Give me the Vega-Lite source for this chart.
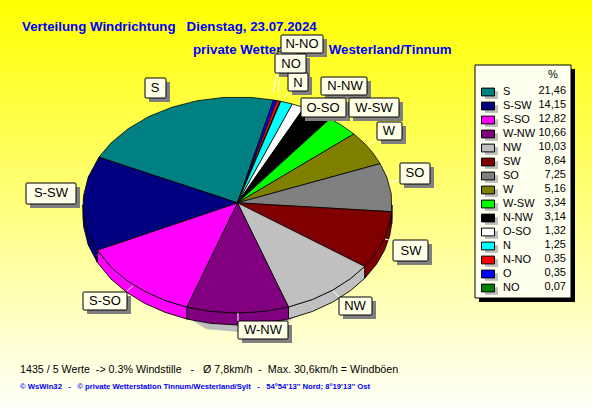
{"$schema":"https://vega.github.io/schema/vega-lite/v6.json","width":592,"height":407,"padding":0,"autosize":"none","background":"#ffffff","config":{"view":{"stroke":null},"text":{"font":"Liberation Sans"},"legend":{"zindex":1}},
"datasets":{
"slices":[{"d":"S","pct":"21,46"},{"d":"S-SW","pct":"14,15"},{"d":"S-SO","pct":"12,82"},{"d":"W-NW","pct":"10,66"},{"d":"NW","pct":"10,03"},{"d":"SW","pct":"8,64"},{"d":"SO","pct":"7,25"},{"d":"W","pct":"5,16"},{"d":"W-SW","pct":"3,34"},{"d":"N-NW","pct":"3,14"},{"d":"O-SO","pct":"1,32"},{"d":"N","pct":"1,25"},{"d":"N-NO","pct":"0,35"},{"d":"O","pct":"0,35"},{"d":"NO","pct":"0,07"}],
"top":[
{"d":"S","i":0,"u":0,"v":0.02},{"d":"S","i":1,"u":-0.897,"v":0.442},{"d":"S","i":2,"u":-0.819,"v":0.574},{"d":"S","i":3,"u":-0.707,"v":0.707},{"d":"S","i":4,"u":-0.574,"v":0.819},{"d":"S","i":5,"u":-0.423,"v":0.906},{"d":"S","i":6,"u":-0.259,"v":0.966},{"d":"S","i":7,"u":-0.087,"v":0.996},{"d":"S","i":8,"u":0.087,"v":0.996},{"d":"S","i":9,"u":0.233,"v":0.972},{"d":"S","i":10,"u":0,"v":0.02},
{"d":"O","i":0,"u":0,"v":0.02},{"d":"O","i":1,"u":0.233,"v":0.972},{"d":"O","i":2,"u":0.255,"v":0.967},{"d":"O","i":3,"u":0,"v":0.02},
{"d":"N-NO","i":0,"u":0,"v":0.02},{"d":"N-NO","i":1,"u":0.255,"v":0.967},{"d":"N-NO","i":2,"u":0.276,"v":0.961},{"d":"N-NO","i":3,"u":0,"v":0.02},
{"d":"NO","i":0,"u":0,"v":0.02},{"d":"NO","i":1,"u":0.276,"v":0.961},{"d":"NO","i":2,"u":0.28,"v":0.96},{"d":"NO","i":3,"u":0,"v":0.02},
{"d":"N","i":0,"u":0,"v":0.02},{"d":"N","i":1,"u":0.28,"v":0.96},{"d":"N","i":2,"u":0.355,"v":0.935},{"d":"N","i":3,"u":0,"v":0.02},
{"d":"O-SO","i":0,"u":0,"v":0.02},{"d":"O-SO","i":1,"u":0.355,"v":0.935},{"d":"O-SO","i":2,"u":0.431,"v":0.902},{"d":"O-SO","i":3,"u":0,"v":0.02},
{"d":"N-NW","i":0,"u":0,"v":0.02},{"d":"N-NW","i":1,"u":0.431,"v":0.902},{"d":"N-NW","i":2,"u":0.5,"v":0.866},{"d":"N-NW","i":3,"u":0.6,"v":0.8},{"d":"N-NW","i":4,"u":0,"v":0.02},
{"d":"W-SW","i":0,"u":0,"v":0.02},{"d":"W-SW","i":1,"u":0.6,"v":0.8},{"d":"W-SW","i":2,"u":0.669,"v":0.743},{"d":"W-SW","i":3,"u":0.753,"v":0.658},{"d":"W-SW","i":4,"u":0,"v":0.02},
{"d":"W","i":0,"u":0,"v":0.02},{"d":"W","i":1,"u":0.753,"v":0.658},{"d":"W","i":2,"u":0.819,"v":0.574},{"d":"W","i":3,"u":0.875,"v":0.485},{"d":"W","i":4,"u":0.923,"v":0.383},{"d":"W","i":5,"u":0,"v":0.02},
{"d":"SO","i":0,"u":0,"v":0.02},{"d":"SO","i":1,"u":0.923,"v":0.383},{"d":"SO","i":2,"u":0.966,"v":0.259},{"d":"SO","i":3,"u":0.995,"v":0.105},{"d":"SO","i":4,"u":0.998,"v":-0.062},{"d":"SO","i":5,"u":0,"v":0.02},
{"d":"SW","i":0,"u":0,"v":0.02},{"d":"SW","i":1,"u":0.998,"v":-0.062},{"d":"SW","i":2,"u":0.985,"v":-0.174},{"d":"SW","i":3,"u":0.951,"v":-0.309},{"d":"SW","i":4,"u":0.899,"v":-0.438},{"d":"SW","i":5,"u":0.823,"v":-0.569},{"d":"SW","i":6,"u":0,"v":0.02},
{"d":"NW","i":0,"u":0,"v":0.02},{"d":"NW","i":1,"u":0.823,"v":-0.569},{"d":"NW","i":2,"u":0.731,"v":-0.682},{"d":"NW","i":3,"u":0.616,"v":-0.788},{"d":"NW","i":4,"u":0.485,"v":-0.875},{"d":"NW","i":5,"u":0.33,"v":-0.944},{"d":"NW","i":6,"u":0,"v":0.02},
{"d":"W-NW","i":0,"u":0,"v":0.02},{"d":"W-NW","i":1,"u":0.33,"v":-0.944},{"d":"W-NW","i":2,"u":0.174,"v":-0.985},{"d":"W-NW","i":3,"u":0,"v":-1},{"d":"W-NW","i":4,"u":-0.174,"v":-0.985},{"d":"W-NW","i":5,"u":-0.328,"v":-0.945},{"d":"W-NW","i":6,"u":0,"v":0.02},
{"d":"S-SO","i":0,"u":0,"v":0.02},{"d":"S-SO","i":1,"u":-0.328,"v":-0.945},{"d":"S-SO","i":2,"u":-0.469,"v":-0.883},{"d":"S-SO","i":3,"u":-0.602,"v":-0.799},{"d":"S-SO","i":4,"u":-0.719,"v":-0.695},{"d":"S-SO","i":5,"u":-0.819,"v":-0.574},{"d":"S-SO","i":6,"u":-0.908,"v":-0.418},{"d":"S-SO","i":7,"u":0,"v":0.02},
{"d":"S-SW","i":0,"u":0,"v":0.02},{"d":"S-SW","i":1,"u":-0.908,"v":-0.418},{"d":"S-SW","i":2,"u":-0.966,"v":-0.259},{"d":"S-SW","i":3,"u":-0.996,"v":-0.087},{"d":"S-SW","i":4,"u":-1,"v":0},{"d":"S-SW","i":5,"u":-0.996,"v":0.087},{"d":"S-SW","i":6,"u":-0.966,"v":0.259},{"d":"S-SW","i":7,"u":-0.897,"v":0.442},{"d":"S-SW","i":8,"u":0,"v":0.02}],
"side":[
{"d":"SO","i":0,"u":0.998,"v":-0.062},{"d":"SO","i":1,"u":1,"v":0},{"d":"SO","i":2,"u":1,"v":-0.111},{"d":"SO","i":3,"u":0.998,"v":-0.173},{"d":"SO","i":4,"u":0.998,"v":-0.062},
{"d":"SW","i":0,"u":0.998,"v":-0.062},{"d":"SW","i":1,"u":0.985,"v":-0.174},{"d":"SW","i":2,"u":0.951,"v":-0.309},{"d":"SW","i":3,"u":0.899,"v":-0.438},{"d":"SW","i":4,"u":0.823,"v":-0.569},{"d":"SW","i":5,"u":0.823,"v":-0.68},{"d":"SW","i":6,"u":0.899,"v":-0.549},{"d":"SW","i":7,"u":0.951,"v":-0.42},{"d":"SW","i":8,"u":0.985,"v":-0.285},{"d":"SW","i":9,"u":0.998,"v":-0.173},{"d":"SW","i":10,"u":0.998,"v":-0.062},
{"d":"NW","i":0,"u":0.823,"v":-0.569},{"d":"NW","i":1,"u":0.731,"v":-0.682},{"d":"NW","i":2,"u":0.616,"v":-0.788},{"d":"NW","i":3,"u":0.485,"v":-0.875},{"d":"NW","i":4,"u":0.33,"v":-0.944},{"d":"NW","i":5,"u":0.33,"v":-1.055},{"d":"NW","i":6,"u":0.485,"v":-0.986},{"d":"NW","i":7,"u":0.616,"v":-0.899},{"d":"NW","i":8,"u":0.731,"v":-0.793},{"d":"NW","i":9,"u":0.823,"v":-0.68},{"d":"NW","i":10,"u":0.823,"v":-0.569},
{"d":"W-NW","i":0,"u":0.33,"v":-0.944},{"d":"W-NW","i":1,"u":0.174,"v":-0.985},{"d":"W-NW","i":2,"u":0,"v":-1},{"d":"W-NW","i":3,"u":-0.174,"v":-0.985},{"d":"W-NW","i":4,"u":-0.328,"v":-0.945},{"d":"W-NW","i":5,"u":-0.328,"v":-1.056},{"d":"W-NW","i":6,"u":-0.174,"v":-1.096},{"d":"W-NW","i":7,"u":0,"v":-1.111},{"d":"W-NW","i":8,"u":0.174,"v":-1.096},{"d":"W-NW","i":9,"u":0.33,"v":-1.055},{"d":"W-NW","i":10,"u":0.33,"v":-0.944},
{"d":"S-SO","i":0,"u":-0.328,"v":-0.945},{"d":"S-SO","i":1,"u":-0.469,"v":-0.883},{"d":"S-SO","i":2,"u":-0.602,"v":-0.799},{"d":"S-SO","i":3,"u":-0.719,"v":-0.695},{"d":"S-SO","i":4,"u":-0.819,"v":-0.574},{"d":"S-SO","i":5,"u":-0.908,"v":-0.418},{"d":"S-SO","i":6,"u":-0.908,"v":-0.529},{"d":"S-SO","i":7,"u":-0.819,"v":-0.685},{"d":"S-SO","i":8,"u":-0.719,"v":-0.806},{"d":"S-SO","i":9,"u":-0.602,"v":-0.91},{"d":"S-SO","i":10,"u":-0.469,"v":-0.994},{"d":"S-SO","i":11,"u":-0.328,"v":-1.056},{"d":"S-SO","i":12,"u":-0.328,"v":-0.945},
{"d":"S-SW","i":0,"u":-0.908,"v":-0.418},{"d":"S-SW","i":1,"u":-0.966,"v":-0.259},{"d":"S-SW","i":2,"u":-0.996,"v":-0.087},{"d":"S-SW","i":3,"u":-1,"v":0},{"d":"S-SW","i":4,"u":-1,"v":-0.111},{"d":"S-SW","i":5,"u":-0.996,"v":-0.198},{"d":"S-SW","i":6,"u":-0.966,"v":-0.37},{"d":"S-SW","i":7,"u":-0.908,"v":-0.529},{"d":"S-SW","i":8,"u":-0.908,"v":-0.418}],
"shadow":[{"i":0,"u":-0.328,"v":-1.04},{"i":1,"u":-0.2,"v":-1.15},{"i":2,"u":0.05,"v":-1.18},{"i":3,"u":0.25,"v":-1.14},{"i":4,"u":0.42,"v":-1.0}],
"labels":[
{"d":"S","c":155,"m":88,"x0":145,"x1":166,"y0":78,"y1":98},
{"d":"S-SW","c":51,"m":193,"x0":26,"x1":76,"y0":183,"y1":204},
{"d":"S-SO","c":105,"m":301,"x0":83,"x1":127,"y0":292,"y1":310},
{"d":"W-NW","c":263,"m":330,"x0":238,"x1":288,"y0":321,"y1":339},
{"d":"NW","c":355,"m":306,"x0":339,"x1":372,"y0":297,"y1":315},
{"d":"SW","c":411,"m":251,"x0":393,"x1":428,"y0":240,"y1":261},
{"d":"SO","c":415,"m":173,"x0":400,"x1":430,"y0":163,"y1":184},
{"d":"W","c":389,"m":131,"x0":377,"x1":402,"y0":122,"y1":140},
{"d":"W-SW","c":374,"m":108,"x0":349,"x1":399,"y0":98,"y1":117},
{"d":"O-SO","c":323,"m":108,"x0":301,"x1":346,"y0":98,"y1":117},
{"d":"N-NW","c":345,"m":86,"x0":321,"x1":367,"y0":77,"y1":95},
{"d":"N","c":298,"m":83,"x0":288,"x1":308,"y0":73,"y1":91},
{"d":"O","c":287,"m":62,"x0":277,"x1":297,"y0":52,"y1":70},
{"d":"NO","c":291,"m":64,"x0":275,"x1":306,"y0":54,"y1":73},
{"d":"N-NO","c":302,"m":44,"x0":281,"x1":323,"y0":35,"y1":53}],
"leaders":[
{"d":"W-NW","a":238,"b":313,"a2":238,"b2":321},
{"d":"S-SO","a":127,"b":291,"a2":133,"b2":286},
{"d":"NW","a":333,"b":291,"a2":339,"b2":297},
{"d":"SW","a":385,"b":239,"a2":393,"b2":241},
{"d":"S-SW","a":76,"b":203,"a2":83,"b2":203},
{"d":"W","a":368,"b":145,"a2":377,"b2":140},
{"d":"NO","a":273,"b":92,"a2":277,"b2":73},
{"d":"O","a":278,"b":92,"a2":280,"b2":73},
{"d":"N","a":285,"b":97,"a2":290,"b2":91},
{"d":"W-SW","a":342,"b":122,"a2":349,"b2":117},
{"d":"SO","a":389,"b":182,"a2":400,"b2":180}]
},
"layer":[
{"data":{"values":[{}]},"mark":{"type":"rect","color":{"gradient":"linear","x1":0,"y1":0,"x2":0,"y2":1,"stops":[{"offset":0,"color":"#FFFF00"},{"offset":1,"color":"#FFFFFA"}]}},"encoding":{"x":{"datum":0,"type":"quantitative","scale":{"domain":[0,592]},"axis":null},"x2":{"datum":592},"y":{"datum":0,"type":"quantitative","scale":{"domain":[407,0]},"axis":null},"y2":{"datum":407}}},
{"data":{"name":"shadow"},"mark":{"type":"line","fill":"#BDBDBD","stroke":null},"encoding":{"x":{"field":"u","type":"quantitative","scale":{"domain":[-1.5372,2.2945]},"axis":null},"y":{"field":"v","type":"quantitative","scale":{"domain":[-1.8704,1.8981]},"axis":null},"order":{"field":"i"}}},
{"data":{"name":"side"},"mark":{"type":"line","stroke":"#000000","strokeWidth":0.9,"filled":true},"encoding":{"x":{"field":"u","type":"quantitative","scale":{"domain":[-1.5372,2.2945]},"axis":null},"y":{"field":"v","type":"quantitative","scale":{"domain":[-1.8704,1.8981]},"axis":null},"order":{"field":"i"},"fill":{"field":"d","type":"nominal","scale":{"domain":["S","S-SW","S-SO","W-NW","NW","SW","SO","W","W-SW","N-NW","O-SO","N","N-NO","O","NO"],"range":["#008080","#000080","#FF00FF","#800080","#C0C0C0","#800000","#808080","#808000","#00FF00","#000000","#FFFFFF","#00FFFF","#FF0000","#0000FF","#008000"]},"legend":{"orient":"none","legendX":481,"legendY":85,"title":null,"padding":0,"symbolType":"M-1,-0.6H1V0.6H-1Z","symbolSize":169,"symbolStrokeColor":"#000000","symbolStrokeWidth":1,"symbolOpacity":1,"clipHeight":14,"rowPadding":0,"labelOffset":8,"labelFontSize":11,"labelFont":"Liberation Sans","labelColor":"#000000","values":["S","S-SW","S-SO","W-NW","NW","SW","SO","W","W-SW","N-NW","O-SO","N","N-NO","O","NO"]}}}},
{"data":{"name":"top"},"mark":{"type":"line","stroke":"#000000","strokeWidth":0.8,"filled":true},"encoding":{"x":{"field":"u","type":"quantitative","scale":{"domain":[-1.5372,2.2945]},"axis":null},"y":{"field":"v","type":"quantitative","scale":{"domain":[-1.8704,1.8981]},"axis":null},"order":{"field":"i"},"fill":{"field":"d","type":"nominal"}}},
{"data":{"name":"leaders"},"mark":{"type":"rule","color":"#FFFFFF","strokeWidth":1},"encoding":{"x":{"field":"a","type":"quantitative","scale":{"domain":[0,592]},"axis":null},"x2":{"field":"a2"},"y":{"field":"b","type":"quantitative","scale":{"domain":[407,0]},"axis":null},"y2":{"field":"b2"}}},
{"data":{"values":[{"t":"Verteilung Windrichtung\u00a0\u00a0\u00a0Dienstag, 23.07.2024","px":22,"py":31},{"t":"private Wetterstation Westerland/Tinnum","px":193,"py":54}]},"mark":{"type":"text","align":"left","baseline":"alphabetic","font":"Liberation Sans","fontWeight":"bold","fontSize":13.3,"color":"#0000FF"},"encoding":{"text":{"field":"t"},"x":{"field":"px","type":"quantitative","scale":{"domain":[0,592]},"axis":null},"y":{"field":"py","type":"quantitative","scale":{"domain":[407,0]},"axis":null}}},
{"data":{"name":"labels"},"mark":{"type":"rect","fill":"#808080","xOffset":4,"x2Offset":4,"yOffset":4,"y2Offset":4},"encoding":{"x":{"field":"x0","type":"quantitative","scale":{"domain":[0,592]},"axis":null},"x2":{"field":"x1"},"y":{"field":"y0","type":"quantitative","scale":{"domain":[407,0]},"axis":null},"y2":{"field":"y1"}}},
{"data":{"name":"labels"},"mark":{"type":"rect","fill":"#FFFFE8","stroke":"#000000","strokeWidth":1,"cornerRadius":1},"encoding":{"x":{"field":"x0","type":"quantitative","scale":{"domain":[0,592]},"axis":null},"x2":{"field":"x1"},"y":{"field":"y0","type":"quantitative","scale":{"domain":[407,0]},"axis":null},"y2":{"field":"y1"}}},
{"data":{"name":"labels"},"transform":[{"filter":"datum.d !== 'O'"}],"mark":{"type":"text","font":"Liberation Sans","fontSize":13,"color":"#000000"},"encoding":{"text":{"field":"d"},"x":{"field":"c","type":"quantitative","scale":{"domain":[0,592]},"axis":null},"y":{"field":"m","type":"quantitative","scale":{"domain":[407,0]},"axis":null}}},
{"data":{"values":[{}]},"mark":{"type":"rect","fill":"#000000","xOffset":4,"x2Offset":4,"yOffset":4,"y2Offset":4},"encoding":{"x":{"datum":475,"type":"quantitative","scale":{"domain":[0,592]},"axis":null},"x2":{"datum":571},"y":{"datum":65,"type":"quantitative","scale":{"domain":[407,0]},"axis":null},"y2":{"datum":298}}},
{"data":{"values":[{}]},"mark":{"type":"rect","fill":"#FFFFF0","stroke":"#000000","strokeWidth":1},"encoding":{"x":{"datum":475,"type":"quantitative","scale":{"domain":[0,592]},"axis":null},"x2":{"datum":571},"y":{"datum":65,"type":"quantitative","scale":{"domain":[407,0]},"axis":null},"y2":{"datum":298}}},
{"data":{"name":"slices"},"mark":{"type":"point","filled":true,"opacity":1,"color":"#BDBDBD","shape":"M-1,-0.6H1V0.6H-1Z","size":169},"encoding":{"x":{"datum":491.5,"type":"quantitative","scale":{"domain":[0,592]},"axis":null},"y":{"field":"d","type":"ordinal","sort":null,"scale":{"type":"point","padding":0,"domain":["S","S-SW","S-SO","W-NW","NW","SW","SO","W","W-SW","N-NW","O-SO","N","N-NO","O","NO"],"range":[95,291]},"axis":null}}},
{"data":{"name":"slices"},"mark":{"type":"text","align":"right","font":"Liberation Sans","fontSize":11,"color":"#000000"},"encoding":{"text":{"field":"pct"},"x":{"datum":566,"type":"quantitative","scale":{"domain":[0,592]},"axis":null},"y":{"field":"d","type":"ordinal","sort":null,"scale":{"type":"point","padding":0,"domain":["S","S-SW","S-SO","W-NW","NW","SW","SO","W","W-SW","N-NW","O-SO","N","N-NO","O","NO"],"range":[91,287]},"axis":null}}},
{"data":{"values":[{"t":"%","px":553,"py":75}]},"mark":{"type":"text","fontSize":11,"font":"Liberation Sans","color":"#000000"},"encoding":{"text":{"field":"t"},"x":{"field":"px","type":"quantitative","scale":{"domain":[0,592]},"axis":null},"y":{"field":"py","type":"quantitative","scale":{"domain":[407,0]},"axis":null}}},
{"data":{"values":[{"t":"1435 / 5 Werte\u00a0\u00a0-> 0.3% Windstille\u00a0\u00a0\u00a0-\u00a0\u00a0\u00a0Ø 7,8km/h\u00a0\u00a0-\u00a0\u00a0Max. 30,6km/h = Windböen","px":20,"py":373}]},"mark":{"type":"text","align":"left","baseline":"alphabetic","font":"Liberation Sans","fontSize":10.7,"color":"#000000"},"encoding":{"text":{"field":"t"},"x":{"field":"px","type":"quantitative","scale":{"domain":[0,592]},"axis":null},"y":{"field":"py","type":"quantitative","scale":{"domain":[407,0]},"axis":null}}},
{"data":{"values":[{"t":"© WsWin32\u00a0\u00a0\u00a0-\u00a0\u00a0\u00a0© private Wetterstation Tinnum/Westerland/Sylt\u00a0\u00a0\u00a0-\u00a0\u00a0\u00a054°54'13'' Nord; 8°19'13'' Ost","px":20,"py":389}]},"mark":{"type":"text","align":"left","baseline":"alphabetic","font":"Liberation Sans","fontSize":7.7,"fontWeight":"bold","color":"#0000FF"},"encoding":{"text":{"field":"t"},"x":{"field":"px","type":"quantitative","scale":{"domain":[0,592]},"axis":null},"y":{"field":"py","type":"quantitative","scale":{"domain":[407,0]},"axis":null}}}
],
"resolve":{"scale":{"x":"independent","y":"independent"}}}
